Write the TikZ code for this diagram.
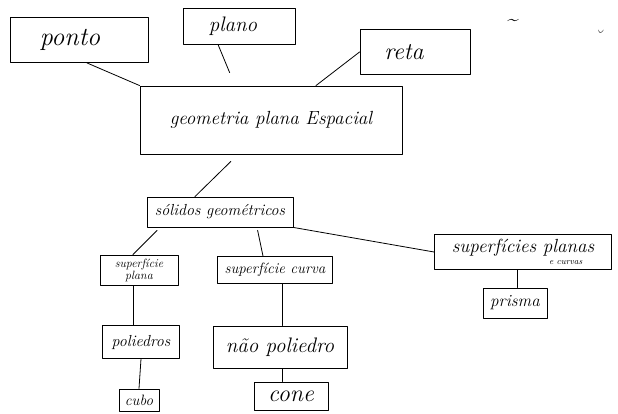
\documentclass[tikz,border=0pt]{standalone}
\usepackage{fontspec}
\usepackage{tikz}
\usetikzlibrary{positioning}

\tikzset{
  caixa/.style={draw, line width=0.9pt, inner sep=1pt, align=center},
  liga/.style={line width=0.8pt},
  letra/.style={font=\fontsize{#1}{#1}\selectfont\itshape}
}

\begin{document}
\begin{tikzpicture}[line cap=round,line join=round,x=1pt,y=-1pt]
\useasboundingbox (0,0) rectangle (618,414);
% topo
\node[caixa, letra=26, minimum width=138, minimum height=45] (ponto) at (79,40) {ponto\hspace*{18pt}};
\node[caixa, letra=21, minimum width=112, minimum height=36] (plano) at (239,26) {plano\hspace*{12pt}};
\node[caixa, letra=24, minimum width=110, minimum height=45] (reta) at (415,52) {reta\hspace*{22pt}};
\node[caixa, letra=19, minimum width=262, minimum height=68] (geom) at (271,120) {geometria plana Espacial};
% solidos
\node[caixa, letra=16, minimum width=146, minimum height=30] (solidos) at (220,212) {sólidos geométricos};
\node[caixa, letra=12, minimum width=78, minimum height=30] (supplana) at (139,270) {superfície\\plana};
\node[caixa, letra=15, minimum width=115, minimum height=27] (supcurva) at (275,270) {superfície curva};
\node[caixa, letra=19, minimum width=177, minimum height=35] (supplanas) at (523,252)
  {superfícies planas\\[-7pt]\hspace*{4.5em}{\fontsize{9}{9}\selectfont e curvas}};
\node[caixa, letra=17, minimum width=64, minimum height=30] (prisma) at (515,303) {prisma};
\node[caixa, letra=16, minimum width=77, minimum height=33] (poliedros) at (141,342) {poliedros};
\node[caixa, letra=21, minimum width=134, minimum height=42] (naopoli) at (280,347) {não poliedro};
\node[caixa, letra=15, minimum width=40, minimum height=22] (cubo) at (139,400) {cubo};
\node[caixa, letra=24, minimum width=74, minimum height=28] (cone) at (291,396) {cone};
% riscos soltos
\node[letra=20] (til) at (512,22) {\~{}};
\node[letra=18] (acento) at (598,36) {\u{}};
% ligacoes
\draw[liga] ([xshift=8]ponto.south) -- (geom.north west);
\draw[liga, shorten >=14pt] ([xshift=-21]plano.south) -- ([xshift=-36]geom.north);
\draw[liga] (reta.west) -- ([xshift=45]geom.north);
\draw[liga, shorten <=10pt] ([xshift=-33]geom.south) -- ([xshift=-25]solidos.north);
\draw[liga, shorten <=4pt] ([xshift=-60]solidos.south) -- ([xshift=-6]supplana.north);
\draw[liga, shorten <=3pt] ([xshift=37]solidos.south) -- ([xshift=-12]supcurva.north);
\draw[liga] (solidos.south east) -- (supplanas.west);
\draw[liga] ([xshift=-6]supplana.south) -- ([xshift=-8]poliedros.north);
\draw[liga] ([xshift=7]supcurva.south) -- ([xshift=2]naopoli.north);
\draw[liga] ([xshift=2]naopoli.south) -- ([xshift=-9]cone.north);
\draw[liga] (poliedros.south) -- (cubo.north);
\draw[liga] ([xshift=-6]supplanas.south) -- ([xshift=2]prisma.north);
\end{tikzpicture}
\end{document}
